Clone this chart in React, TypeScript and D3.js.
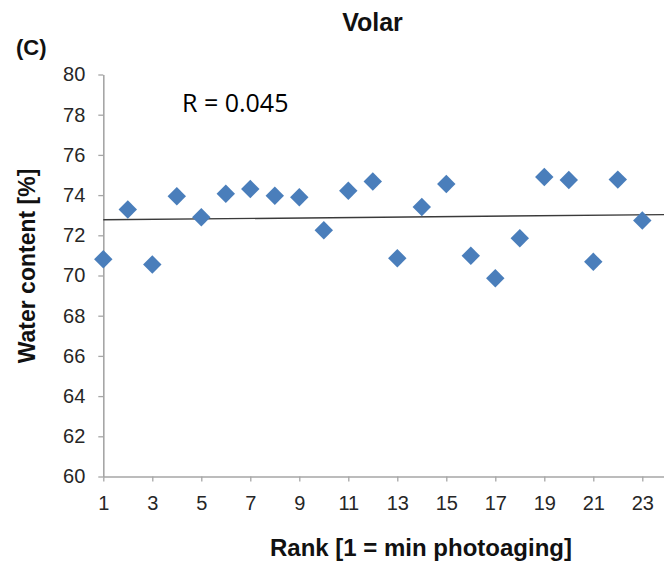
import React, { useEffect, useRef } from 'react';
import * as d3 from 'd3';

// ranks 1..23 and the water content
const ranks = [1, 2, 3, 4, 5, 6, 7, 8, 9, 10, 11, 12, 13, 14, 15, 16, 17, 18, 19, 20, 21, 22, 23];
const waterContent = [70.81, 73.28, 70.55, 73.94, 72.9, 74.07, 74.3, 73.97, 73.89, 72.25, 74.22, 74.68,
  70.86, 73.41, 74.55, 70.98, 69.86, 71.85, 74.9, 74.75, 70.68, 74.77, 72.74];
const xTicks = [1, 3, 5, 7, 9, 11, 13, 15, 17, 19, 21, 23];
const yTicks = [60, 62, 64, 66, 68, 70, 72, 74, 76, 78, 80];
// linear trend line, end values
const trendRanks = [1, 24];
const trendValues = [72.77, 73.03];

const W = 664;
const H = 566;

export default function App() {
  const ref = useRef<SVGSVGElement | null>(null);

  useEffect(() => {
    const svg = d3.select(ref.current);
    svg.selectAll('*').remove();

    const x = d3.scaleLinear().domain([1, 24]).range([103.3, 666.8]);
    const y = d3.scaleLinear().domain([60, 80]).range([476.5, 74.5]);

    const axisColor = '#a6a6a6';
    const font = '"Liberation Sans", Arial, sans-serif';

    const yAxis = svg.append('g')
      .attr('transform', `translate(${x(1)},0)`)
      .call(d3.axisLeft(y).tickValues(yTicks).tickSize(5).tickPadding(13).tickSizeOuter(0));
    const xAxis = svg.append('g')
      .attr('transform', `translate(0,${y(60)})`)
      .call(d3.axisBottom(x).tickValues(xTicks).tickSize(5).tickPadding(14).tickSizeOuter(0));

    [xAxis, yAxis].forEach(g => {
      g.select('.domain').attr('stroke', axisColor).attr('stroke-width', 1.6);
      g.selectAll('.tick line').attr('stroke', axisColor).attr('stroke-width', 1.3);
      g.selectAll('.tick text')
        .attr('fill', '#262626')
        .style('font-family', font)
        .style('font-size', '20px');
    });

    // trend line
    const line = d3.line<number>()
      .x((d, i) => x(trendRanks[i]))
      .y(d => y(d));
    svg.append('path')
      .datum(trendValues)
      .attr('fill', 'none')
      .attr('stroke', '#3a3a3a')
      .attr('stroke-width', 1.4)
      .attr('d', line);

    // diamonds
    const diamond = d3.symbol().type(d3.symbolSquare).size(170);
    svg.selectAll('path.pt')
      .data(waterContent)
      .enter()
      .append('path')
      .attr('class', 'pt')
      .attr('d', diamond)
      .attr('transform', (d, i) => `translate(${x(ranks[i])},${y(d)}) rotate(45)`)
      .attr('fill', '#4a7ebb');

    svg.append('text')
      .attr('x', 372.5).attr('y', 31)
      .attr('text-anchor', 'middle')
      .style('font-family', font).style('font-weight', 'bold').style('font-size', '25px')
      .attr('fill', '#111')
      .text('Volar');

    svg.append('text')
      .attr('x', 16).attr('y', 55)
      .style('font-family', font).style('font-weight', 'bold').style('font-size', '22px')
      .attr('fill', '#111')
      .text('(C)');

    svg.append('text')
      .attr('x', 182).attr('y', 112)
      .style('font-family', '"Open Sans", sans-serif').style('font-size', '25px')
      .attr('fill', '#000')
      .text('R = 0.045');

    svg.append('text')
      .attr('transform', 'translate(35,266) rotate(-90)')
      .attr('text-anchor', 'middle')
      .style('font-family', font).style('font-weight', 'bold').style('font-size', '23px')
      .attr('fill', '#111')
      .text('Water content [%]');

    svg.append('text')
      .attr('x', 421).attr('y', 556)
      .attr('text-anchor', 'middle')
      .style('font-family', font).style('font-weight', 'bold').style('font-size', '24px')
      .attr('fill', '#111')
      .text('Rank [1 = min photoaging]');
  }, []);

  return (
    <svg ref={ref} width={W} height={H}
      style={{ position: 'absolute', left: 0, top: 0, background: '#fff' }} />
  );
}
